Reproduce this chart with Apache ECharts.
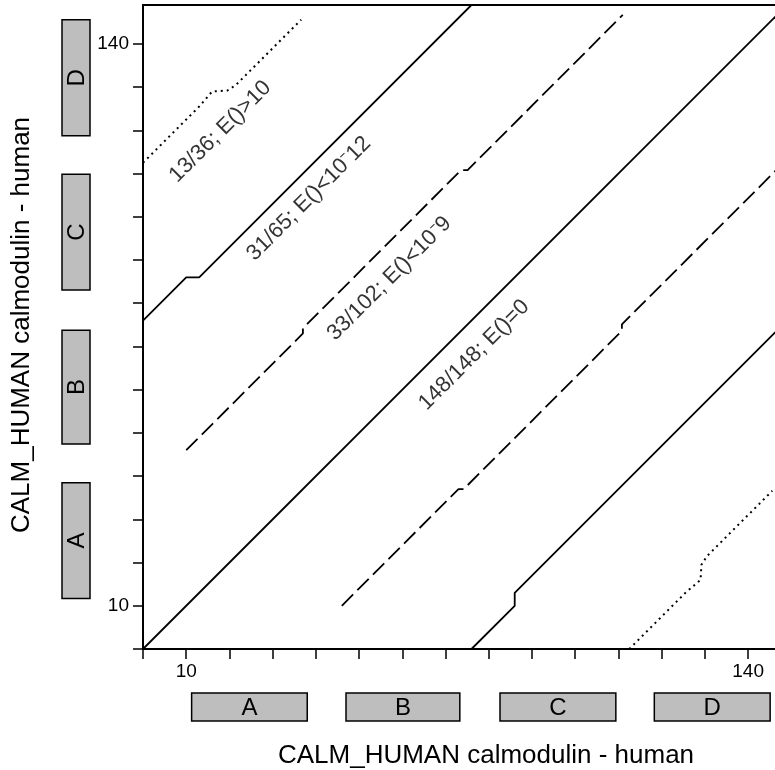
<!DOCTYPE html>
<html>
<head>
<meta charset="utf-8">
<script src="https://cdn.jsdelivr.net/npm/echarts@6/dist/echarts.min.js"></script>
<style>html,body{margin:0;padding:0;background:#fff;}#c{width:775px;height:770px;}</style>
</head>
<body>
<div id="c"></div>
<script>
// ---- data ----
const axisTitle = 'CALM_HUMAN calmodulin - human';
const tickLabels = [10, 140];
const domainNames = ['A', 'B', 'C', 'D'];
const domainStart = [11.25, 46.97, 82.6, 118.3];
const domainEnd = [38.0, 73.3, 109.4, 145.1];

const diagX = [0, 149];
const diagY = [0, 149];
const solidUpX = [0, 10, 13, 76];
const solidUpY = [76, 86, 86, 149];
const solidLoX = [76, 86, 86, 149];
const solidLoY = [0, 10, 13, 76];
const dashUpX = [10, 37, 37, 73.6, 75.1, 111];
const dashUpY = [46, 73, 74.2, 110.8, 110.8, 146.7];
const dashLoX = [46, 73, 74.2, 110.8, 110.8, 146.7];
const dashLoY = [10, 37, 37, 73.6, 75.1, 111];
const dotUpX = [0, 13, 16, 19.5, 21.5, 36.6];
const dotUpY = [112.5, 125.5, 129, 129.2, 130.5, 145.6];
const dotLoX = [112.5, 125.5, 129, 129.2, 130.5, 145.6];
const dotLoY = [0, 13, 16, 19.5, 21.5, 36.6];

const lineLabels = ['13/36; E()>10', '31/65; E()<10\u207B12', '33/102; E()<10\u207B9', '148/148; E()=0'];
const lineLabelX = [17.9, 38.4, 57.0, 76.6];
const lineLabelY = [119.7, 104.2, 85.7, 68.0];

// ---- chart ----
const FONT = '"Liberation Sans", Arial, Helvetica, sans-serif';
const zip = (a, b) => a.map((v, i) => [v, b[i]]);

function lineSeries(xs, ys, type, w) {
  return {
    type: 'line', data: zip(xs, ys), showSymbol: false, symbol: 'none',
    lineStyle: { color: '#000', width: w, type: type },
    silent: true, animation: false
  };
}

const chart = echarts.init(document.getElementById('c'), null, { renderer: 'canvas' });

const option = {
  animation: false,
  backgroundColor: '#fff',
  grid: { left: 143, top: 5, width: 644, height: 644, containLabel: false, outerBoundsMode: 'none',
          show: true, borderColor: '#000', borderWidth: 2, backgroundColor: 'transparent' },
  xAxis: {
    type: 'value', min: 0, max: 149, interval: 10,
    axisLine: { show: true, lineStyle: { color: '#000', width: 2 } },
    axisTick: { show: true, length: 10, lineStyle: { color: '#000', width: 1.5 } },
    splitLine: { show: false },
    axisLabel: {
      margin: 13, fontSize: 19, fontFamily: FONT, color: '#000', showMaxLabel: false,
      formatter: v => tickLabels.indexOf(v) >= 0 ? String(v) : ''
    }
  },
  yAxis: {
    type: 'value', min: 0, max: 149, interval: 10,
    axisLine: { show: true, lineStyle: { color: '#000', width: 2 } },
    axisTick: { show: true, length: 10, lineStyle: { color: '#000', width: 1.5 } },
    splitLine: { show: false },
    axisLabel: {
      margin: 14, fontSize: 19, fontFamily: FONT, color: '#000', showMaxLabel: false,
      formatter: v => tickLabels.indexOf(v) >= 0 ? String(v) : ''
    }
  },
  series: [
    lineSeries(diagX, diagY, 'solid', 1.8),
    lineSeries(solidUpX, solidUpY, 'solid', 1.8),
    lineSeries(solidLoX, solidLoY, 'solid', 1.8),
    lineSeries(dashUpX, dashUpY, [16, 6], 1.8),
    lineSeries(dashLoX, dashLoY, [16, 6], 1.8),
    lineSeries(dotUpX, dotUpY, [2, 4], 2),
    lineSeries(dotLoX, dotLoY, [2, 4], 2),
    {
      type: 'scatter', symbolSize: 0, silent: true, animation: false,
      data: lineLabels.map((t, i) => ({ name: t, value: [lineLabelX[i], lineLabelY[i]] })),
      label: {
        show: true, position: 'inside', rotate: 45, formatter: p => p.name,
        fontSize: 22, fontFamily: FONT, color: '#000', align: 'center', verticalAlign: 'middle'
      }
    },
    {
      type: 'custom', clip: false, silent: true, animation: false,
      data: domainStart.map((s, i) => [s, domainEnd[i]]),
      renderItem: function (params, api) {
        const i = params.dataIndex;
        const cs = params.coordSys;
        const p1 = api.coord([api.value(0), 0]);
        const p2 = api.coord([api.value(1), 0]);
        const y = cs.y + cs.height + 44;
        const h = 28;
        return {
          type: 'group', children: [
            { type: 'rect', shape: { x: p1[0], y: y, width: p2[0] - p1[0], height: h },
              style: { fill: '#bebebe', stroke: '#000', lineWidth: 1.5 } },
            { type: 'text', x: (p1[0] + p2[0]) / 2, y: y + h / 2 + 1,
              style: { text: domainNames[i], fontSize: 24, fontFamily: FONT, fill: '#000', align: 'center', verticalAlign: 'middle' } }
          ]
        };
      }
    },
    {
      type: 'custom', clip: false, silent: true, animation: false,
      data: domainStart.map((s, i) => [s, domainEnd[i]]),
      renderItem: function (params, api) {
        const i = params.dataIndex;
        const q1 = api.coord([0, api.value(0)]);
        const q2 = api.coord([0, api.value(1)]);
        const x = 62;
        const w = 28;
        return {
          type: 'group', children: [
            { type: 'rect', shape: { x: x, y: q2[1] - 2, width: w, height: q1[1] - q2[1] },
              style: { fill: '#bebebe', stroke: '#000', lineWidth: 1.5 } },
            { type: 'text', x: x + w / 2 + 1, y: (q1[1] + q2[1]) / 2 - 2, rotation: Math.PI / 2,
              style: { text: domainNames[i], fontSize: 24, fontFamily: FONT, fill: '#000', align: 'center', verticalAlign: 'middle' } }
          ]
        };
      }
    }
  ],
  graphic: [
    { type: 'text', x: 486, y: 756, style: { text: axisTitle, fontSize: 26, fontFamily: FONT, fill: '#000', align: 'center', verticalAlign: 'middle' } },
    { type: 'text', x: 22, y: 325, rotation: Math.PI / 2, style: { text: axisTitle, fontSize: 26, fontFamily: FONT, fill: '#000', align: 'center', verticalAlign: 'middle' } }
  ]
};
chart.setOption(option);
</script>
</body>
</html>
